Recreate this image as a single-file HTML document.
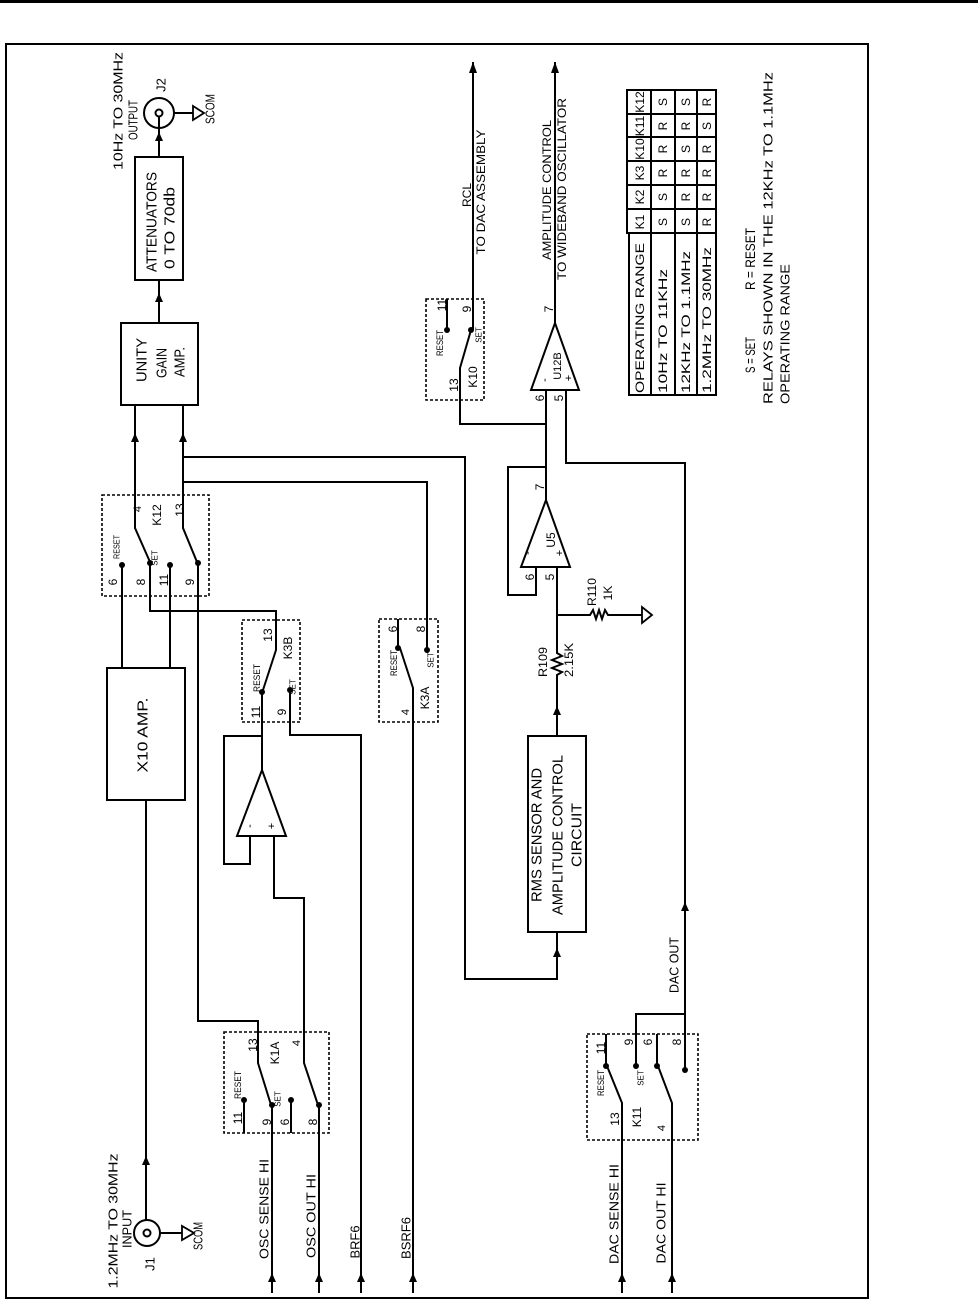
<!DOCTYPE html>
<html><head><meta charset="utf-8">
<style>
html,body{margin:0;padding:0;background:#fff;}
svg{display:block;}
text{font-family:"Liberation Sans",sans-serif;fill:#000;}
.l{stroke:#000;stroke-width:2;fill:none;}
.d{stroke:#000;stroke-width:1.6;fill:none;stroke-dasharray:3,2;}
.f{fill:#000;stroke:none;}
</style></head><body>
<svg width="978" height="1303" viewBox="0 0 978 1303" xmlns="http://www.w3.org/2000/svg">
<rect x="0" y="0" width="978" height="3" class="f"/>
<rect x="6" y="44" width="862" height="1254" class="l"/>

<circle cx="159" cy="113" r="15" class="l"/>
<circle cx="159" cy="113" r="3.5" class="l"/>
<path class="l" d="M174 113 H193 M159 116 V157"/>
<polygon points="193,106 193,120 204,113" class="l" style="stroke-width:1.8"/>
<polygon class="f" points="159,132 155,141 163,141"/>
<rect x="135" y="157" width="48" height="123" class="l"/>
<path class="l" d="M159 280 V323"/>
<polygon class="f" points="159,293 155,302 163,302"/>
<rect x="121" y="323" width="77" height="82" class="l"/>

<path class="l" d="M135 405 V528 L150 562 M183 405 V528 L197 562"/>
<polygon class="f" points="135,433 131,442 139,442"/>
<polygon class="f" points="183,433 179,442 187,442"/>
<path class="l" d="M183 457 H465 V979 H557 V932"/>
<polygon class="f" points="557,948 553,957 561,957"/>
<path class="l" d="M183 482 H427 V650"/>

<rect x="102" y="495" width="107" height="101" class="d"/>
<path class="l" d="M122 565 V668 M170 565 V668 M150 565 V611 H276 V650 L263 690 M198 565 V1021 H258 V1063 L271 1105"/>
<circle cx="122" cy="565" r="3" class="f"/><circle cx="150" cy="563" r="3" class="f"/>
<circle cx="170" cy="565" r="3" class="f"/><circle cx="198" cy="563" r="3" class="f"/>

<rect x="107" y="668" width="78" height="132" class="l"/>
<path class="l" d="M146 800 V1220"/>
<polygon class="f" points="146,1156 142,1165 150,1165"/>
<circle cx="147" cy="1233" r="13" class="l"/>
<circle cx="147" cy="1233" r="3.5" class="l"/>
<path class="l" d="M160 1233 H182"/>
<polygon points="182,1226 182,1240 194,1233" class="l" style="stroke-width:1.8"/>

<rect x="242" y="620" width="58" height="102" class="d"/>
<circle cx="262" cy="692" r="3" class="f"/><circle cx="290" cy="690" r="3" class="f"/>
<path class="l" d="M262 692 V770"/>
<polygon points="262,770 237,836 286,836" class="l"/>
<path class="l" d="M262 736 H224 V864 H250 V836 M274 836 V898 H304 V1063 L318 1105"/>
<path class="l" d="M290 690 V735 H361 V1293"/>

<rect x="224" y="1032" width="105" height="101" class="d"/>
<circle cx="244" cy="1100" r="3" class="f"/><circle cx="272" cy="1105" r="3" class="f"/>
<circle cx="291" cy="1100" r="3" class="f"/><circle cx="319" cy="1105" r="3" class="f"/>
<path class="l" d="M244 1100 V1133 M291 1100 V1133 M272 1105 V1293 M319 1105 V1293"/>
<polygon class="f" points="272,1273 268,1282 276,1282"/>
<polygon class="f" points="319,1273 315,1282 323,1282"/>
<polygon class="f" points="361,1273 357,1282 365,1282"/>
<polygon class="f" points="413,1273 409,1282 417,1282"/>

<rect x="379" y="619" width="59" height="103" class="d"/>
<path class="l" d="M413 1293 V688 L400 648 M398 648 V619"/>
<circle cx="398" cy="648" r="3" class="f"/><circle cx="427" cy="650" r="3" class="f"/>

<rect x="528" y="736" width="58" height="196" class="l"/>
<path class="l" d="M557 736 V675 l5 -3 l-10 -4 l10 -4 l-10 -4 l10 -4 l-5 -3 V567"/>
<polygon class="f" points="557,706 553,715 561,715"/>
<path class="l" d="M557 615 H590 l3 -5 l3 9 l3 -9 l3 9 l3 -9 l3 5 H642"/>
<polygon points="642,607 642,623 652,615" class="l" style="stroke-width:1.8"/>

<polygon points="546,500 521,567 570,567" class="l"/>
<path class="l" d="M536 567 V595 H508 V467 H546 M546 500 V390 M546 424 H460 V368 L471 330"/>
<polygon points="555,323 531,390 579,390" class="l"/>
<path class="l" d="M566 390 V463 H685 V1070 M555 323 V62"/>
<polygon class="f" points="685,902 681,911 689,911"/>
<polygon class="f" points="555,62 551,73 559,73"/>

<rect x="426" y="299" width="58" height="101" class="d"/>
<path class="l" d="M447 330 V299 M473 330 V62"/>
<circle cx="447" cy="330" r="3" class="f"/><circle cx="471" cy="330" r="3" class="f"/>
<polygon class="f" points="473,62 469,73 477,73"/>

<rect x="587" y="1034" width="111" height="106" class="d"/>
<path class="l" d="M606 1034 V1066 M636 1066 V1014 H685 M657 1034 V1066 M622 1293 V1103 L607 1066 M672 1293 V1103 L658 1066"/>
<circle cx="606" cy="1066" r="3" class="f"/><circle cx="636" cy="1066" r="3" class="f"/>
<circle cx="657" cy="1066" r="3" class="f"/><circle cx="685" cy="1070" r="3" class="f"/>
<polygon class="f" points="622,1273 618,1282 626,1282"/>
<polygon class="f" points="672,1273 668,1282 676,1282"/>

<path class="l" d="M627 90 H716 V395 H629 V233 H627 Z M651 90 V395 M675 90 V395 M697 90 V395 M627 114 H716 M627 137 H716 M627 161 H716 M627 185 H716 M627 209 H716 M627 233 H716"/>

<g font-size="13" text-anchor="middle" dominant-baseline="central">
<text x="118" y="111" transform="rotate(-90 118 111)" textLength="118" lengthAdjust="spacingAndGlyphs">10Hz TO 30MHz</text>
<text x="133" y="120" transform="rotate(-90 133 120)" textLength="40" lengthAdjust="spacingAndGlyphs">OUTPUT</text>
<text x="161" y="85" transform="rotate(-90 161 85)">J2</text>
<text x="210" y="109" transform="rotate(-90 210 109)" textLength="30" lengthAdjust="spacingAndGlyphs">SCOM</text>
<text x="152" y="222" transform="rotate(-90 152 222)" font-size="15" textLength="100" lengthAdjust="spacingAndGlyphs">ATTENUATORS</text>
<text x="170" y="228" transform="rotate(-90 170 228)" font-size="15" textLength="82" lengthAdjust="spacingAndGlyphs">0 TO 70db</text>
<text x="142" y="360" transform="rotate(-90 142 360)" font-size="15" textLength="44" lengthAdjust="spacingAndGlyphs">UNITY</text>
<text x="162" y="363" transform="rotate(-90 162 363)" font-size="15" textLength="30" lengthAdjust="spacingAndGlyphs">GAIN</text>
<text x="180" y="362" transform="rotate(-90 180 362)" font-size="15" textLength="30" lengthAdjust="spacingAndGlyphs">AMP.</text>
<text x="143" y="735" transform="rotate(-90 143 735)" font-size="15" textLength="75" lengthAdjust="spacingAndGlyphs">X10 AMP.</text>

<text x="138" y="509" transform="rotate(-90 138 509)" font-size="11">4</text>
<text x="157" y="515" transform="rotate(-90 157 515)" font-size="12">K12</text>
<text x="180" y="510" transform="rotate(-90 180 510)" font-size="12">13</text>
<text x="117" y="547" transform="rotate(-90 117 547)" font-size="8" textLength="24" lengthAdjust="spacingAndGlyphs">RESET</text>
<text x="155" y="558" transform="rotate(-90 155 558)" font-size="8">SET</text>
<text x="113" y="582" transform="rotate(-90 113 582)" font-size="12">6</text>
<text x="141" y="582" transform="rotate(-90 141 582)" font-size="12">8</text>
<text x="164" y="580" transform="rotate(-90 164 580)" font-size="12">11</text>
<text x="190" y="582" transform="rotate(-90 190 582)" font-size="12">9</text>

<text x="268" y="635" transform="rotate(-90 268 635)" font-size="12">13</text>
<text x="288" y="648" transform="rotate(-90 288 648)" font-size="12">K3B</text>
<text x="257" y="678" transform="rotate(-90 257 678)" font-size="9" textLength="28" lengthAdjust="spacingAndGlyphs">RESET</text>
<text x="293" y="687" transform="rotate(-90 293 687)" font-size="8">SET</text>
<text x="256" y="712" transform="rotate(-90 256 712)" font-size="12">11</text>
<text x="282" y="712" transform="rotate(-90 282 712)" font-size="12">9</text>
<text x="250" y="826" transform="rotate(-90 250 826)" font-size="11">-</text>
<text x="272" y="826" transform="rotate(-90 272 826)" font-size="11">+</text>

<text x="253" y="1045" transform="rotate(-90 253 1045)" font-size="12">13</text>
<text x="275" y="1053" transform="rotate(-90 275 1053)" font-size="12">K1A</text>
<text x="297" y="1043" transform="rotate(-90 297 1043)" font-size="11">4</text>
<text x="238" y="1085" transform="rotate(-90 238 1085)" font-size="9" textLength="28" lengthAdjust="spacingAndGlyphs">RESET</text>
<text x="278" y="1099" transform="rotate(-90 278 1099)" font-size="8">SET</text>
<text x="238" y="1118" transform="rotate(-90 238 1118)" font-size="12">11</text>
<text x="267" y="1122" transform="rotate(-90 267 1122)" font-size="12">9</text>
<text x="285" y="1122" transform="rotate(-90 285 1122)" font-size="12">6</text>
<text x="313" y="1122" transform="rotate(-90 313 1122)" font-size="12">8</text>

<text x="113" y="1221" transform="rotate(-90 113 1221)" textLength="135" lengthAdjust="spacingAndGlyphs">1.2MHz TO 30MHz</text>
<text x="127" y="1229" transform="rotate(-90 127 1229)" textLength="38" lengthAdjust="spacingAndGlyphs">INPUT</text>
<text x="150" y="1264" transform="rotate(-90 150 1264)">J1</text>
<text x="198" y="1236" transform="rotate(-90 198 1236)" textLength="28" lengthAdjust="spacingAndGlyphs">SCOM</text>

<text x="264" y="1209" transform="rotate(-90 264 1209)" textLength="100" lengthAdjust="spacingAndGlyphs">OSC SENSE HI</text>
<text x="311" y="1216" transform="rotate(-90 311 1216)" textLength="84" lengthAdjust="spacingAndGlyphs">OSC OUT HI</text>
<text x="355" y="1242" transform="rotate(-90 355 1242)" textLength="33" lengthAdjust="spacingAndGlyphs">BRF6</text>
<text x="406" y="1238" transform="rotate(-90 406 1238)" textLength="42" lengthAdjust="spacingAndGlyphs">BSRF6</text>
<text x="614" y="1214" transform="rotate(-90 614 1214)" textLength="100" lengthAdjust="spacingAndGlyphs">DAC SENSE HI</text>
<text x="661" y="1223" transform="rotate(-90 661 1223)" textLength="81" lengthAdjust="spacingAndGlyphs">DAC OUT HI</text>
<text x="674" y="965" transform="rotate(-90 674 965)" textLength="56" lengthAdjust="spacingAndGlyphs">DAC OUT</text>

<text x="393" y="629" transform="rotate(-90 393 629)" font-size="12">6</text>
<text x="421" y="629" transform="rotate(-90 421 629)" font-size="12">8</text>
<text x="394" y="663" transform="rotate(-90 394 663)" font-size="9" textLength="26" lengthAdjust="spacingAndGlyphs">RESET</text>
<text x="431" y="660" transform="rotate(-90 431 660)" font-size="8">SET</text>
<text x="425" y="698" transform="rotate(-90 425 698)" font-size="12">K3A</text>
<text x="406" y="712" transform="rotate(-90 406 712)" font-size="11">4</text>

<text x="537" y="835" transform="rotate(-90 537 835)" font-size="15" textLength="134" lengthAdjust="spacingAndGlyphs">RMS SENSOR AND</text>
<text x="558" y="835" transform="rotate(-90 558 835)" font-size="15" textLength="160" lengthAdjust="spacingAndGlyphs">AMPLITUDE CONTROL</text>
<text x="577" y="835" transform="rotate(-90 577 835)" font-size="15" textLength="64" lengthAdjust="spacingAndGlyphs">CIRCUIT</text>

<text x="543" y="662" transform="rotate(-90 543 662)" font-size="12" textLength="30" lengthAdjust="spacingAndGlyphs">R109</text>
<text x="569" y="660" transform="rotate(-90 569 660)" font-size="12" textLength="34" lengthAdjust="spacingAndGlyphs">2.15K</text>
<text x="592" y="592" transform="rotate(-90 592 592)" font-size="12" textLength="28" lengthAdjust="spacingAndGlyphs">R110</text>
<text x="608" y="593" transform="rotate(-90 608 593)" font-size="12">1K</text>

<text x="540" y="487" transform="rotate(-90 540 487)" font-size="12">7</text>
<text x="551" y="540" transform="rotate(-90 551 540)" font-size="12">U5</text>
<text x="528" y="553" transform="rotate(-90 528 553)" font-size="11">-</text>
<text x="560" y="553" transform="rotate(-90 560 553)" font-size="11">+</text>
<text x="530" y="577" transform="rotate(-90 530 577)" font-size="12">6</text>
<text x="550" y="577" transform="rotate(-90 550 577)" font-size="12">5</text>

<text x="549" y="309" transform="rotate(-90 549 309)" font-size="12">7</text>
<text x="558" y="366" transform="rotate(-90 558 366)" font-size="11">U12B</text>
<text x="545" y="380" transform="rotate(-90 545 380)" font-size="11">-</text>
<text x="569" y="378" transform="rotate(-90 569 378)" font-size="11">+</text>
<text x="540" y="398" transform="rotate(-90 540 398)" font-size="12">6</text>
<text x="559" y="398" transform="rotate(-90 559 398)" font-size="12">5</text>

<text x="440" y="343" transform="rotate(-90 440 343)" font-size="9" textLength="26" lengthAdjust="spacingAndGlyphs">RESET</text>
<text x="442" y="305" transform="rotate(-90 442 305)" font-size="12">11</text>
<text x="467" y="309" transform="rotate(-90 467 309)" font-size="12">9</text>
<text x="479" y="335" transform="rotate(-90 479 335)" font-size="8">SET</text>
<text x="454" y="385" transform="rotate(-90 454 385)" font-size="12">13</text>
<text x="473" y="377" transform="rotate(-90 473 377)" font-size="12">K10</text>

<text x="601" y="1083" transform="rotate(-90 601 1083)" font-size="9" textLength="26" lengthAdjust="spacingAndGlyphs">RESET</text>
<text x="601" y="1048" transform="rotate(-90 601 1048)" font-size="12">11</text>
<text x="629" y="1042" transform="rotate(-90 629 1042)" font-size="12">9</text>
<text x="648" y="1042" transform="rotate(-90 648 1042)" font-size="12">6</text>
<text x="677" y="1042" transform="rotate(-90 677 1042)" font-size="12">8</text>
<text x="641" y="1078" transform="rotate(-90 641 1078)" font-size="8">SET</text>
<text x="637" y="1117" transform="rotate(-90 637 1117)" font-size="12">K11</text>
<text x="615" y="1119" transform="rotate(-90 615 1119)" font-size="12">13</text>
<text x="662" y="1128" transform="rotate(-90 662 1128)" font-size="11">4</text>

<text x="467" y="195" transform="rotate(-90 467 195)" font-size="12">RCL</text>
<text x="481" y="192" transform="rotate(-90 481 192)" font-size="12" textLength="125" lengthAdjust="spacingAndGlyphs">TO DAC ASSEMBLY</text>
<text x="547" y="190" transform="rotate(-90 547 190)" font-size="12" textLength="140" lengthAdjust="spacingAndGlyphs">AMPLITUDE CONTROL</text>
<text x="562" y="189" transform="rotate(-90 562 189)" font-size="12" textLength="182" lengthAdjust="spacingAndGlyphs">TO WIDEBAND OSCILLATOR</text>

<text x="640" y="222" transform="rotate(-90 640 222)" font-size="12">K1</text>
<text x="640" y="197" transform="rotate(-90 640 197)" font-size="12">K2</text>
<text x="640" y="173" transform="rotate(-90 640 173)" font-size="12">K3</text>
<text x="640" y="149" transform="rotate(-90 640 149)" font-size="12">K10</text>
<text x="640" y="126" transform="rotate(-90 640 126)" font-size="12">K11</text>
<text x="640" y="102" transform="rotate(-90 640 102)" font-size="12">K12</text>
<g font-size="12">
<text x="663" y="222" transform="rotate(-90 663 222)">S</text>
<text x="663" y="197" transform="rotate(-90 663 197)">S</text>
<text x="663" y="173" transform="rotate(-90 663 173)">R</text>
<text x="663" y="149" transform="rotate(-90 663 149)">R</text>
<text x="663" y="126" transform="rotate(-90 663 126)">R</text>
<text x="663" y="102" transform="rotate(-90 663 102)">S</text>
<text x="686" y="222" transform="rotate(-90 686 222)">S</text>
<text x="686" y="197" transform="rotate(-90 686 197)">R</text>
<text x="686" y="173" transform="rotate(-90 686 173)">R</text>
<text x="686" y="149" transform="rotate(-90 686 149)">S</text>
<text x="686" y="126" transform="rotate(-90 686 126)">R</text>
<text x="686" y="102" transform="rotate(-90 686 102)">S</text>
<text x="707" y="222" transform="rotate(-90 707 222)">R</text>
<text x="707" y="197" transform="rotate(-90 707 197)">R</text>
<text x="707" y="173" transform="rotate(-90 707 173)">R</text>
<text x="707" y="149" transform="rotate(-90 707 149)">R</text>
<text x="707" y="126" transform="rotate(-90 707 126)">S</text>
<text x="707" y="102" transform="rotate(-90 707 102)">R</text>
</g>
<text x="750" y="355" transform="rotate(-90 750 355)" font-size="14" textLength="36" lengthAdjust="spacingAndGlyphs">S = SET</text>
<text x="750" y="259" transform="rotate(-90 750 259)" font-size="14" textLength="62" lengthAdjust="spacingAndGlyphs">R = RESET</text>
</g>
<g font-size="12" text-anchor="start" dominant-baseline="central">
<text x="640" y="393" transform="rotate(-90 640 393)" textLength="150" lengthAdjust="spacingAndGlyphs">OPERATING RANGE</text>
<text x="663" y="393" transform="rotate(-90 663 393)" textLength="124" lengthAdjust="spacingAndGlyphs">10Hz TO 11KHz</text>
<text x="686" y="393" transform="rotate(-90 686 393)" textLength="142" lengthAdjust="spacingAndGlyphs">12KHz TO 1.1MHz</text>
<text x="707" y="393" transform="rotate(-90 707 393)" textLength="146" lengthAdjust="spacingAndGlyphs">1.2MHz TO 30MHz</text>
<text x="768" y="404" transform="rotate(-90 768 404)" font-size="13" textLength="332" lengthAdjust="spacingAndGlyphs">RELAYS SHOWN IN THE 12KHz TO 1.1MHz</text>
<text x="785" y="404" transform="rotate(-90 785 404)" font-size="13" textLength="140" lengthAdjust="spacingAndGlyphs">OPERATING RANGE</text>
</g>
</svg>
</body></html>
